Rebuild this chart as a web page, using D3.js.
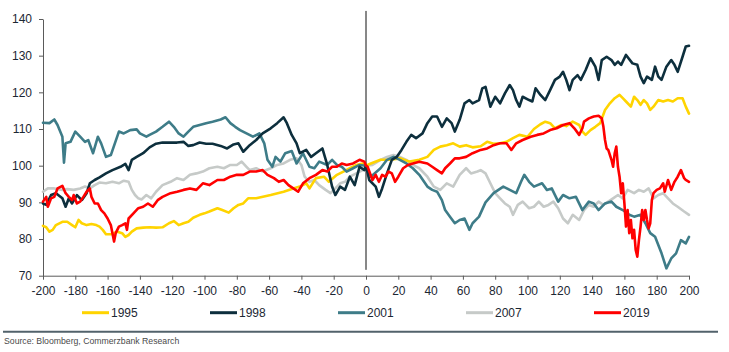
<!DOCTYPE html>
<html>
<head>
<meta charset="utf-8">
<script src="https://cdn.jsdelivr.net/npm/d3@7"></script>
<style>
  body { margin: 0; background: #fff; }
  svg { display: block; font-family: "Liberation Sans", Arial, sans-serif; }
</style>
</head>
<body>
<script>
// days around the event (x) and index level (y)
const s1995 = [[-200,83.6],[-198,83.2],[-196,82],[-194,82.5],[-192,83.8],[-188,84.7],[-185,84.7],[-182,83.8],[-180,83.2],[-178,85.2],[-176,84.3],[-173,83.8],[-170,84.1],[-167,83.8],[-165,83.4],[-163,82.5],[-161,81.3],[-158,81.3],[-154,82],[-151,81.6],[-149,80.6],[-147,81.1],[-145,82],[-142,82.9],[-138,83.1],[-134,83.2],[-130,83.1],[-126,83.2],[-122,84.3],[-119,84.9],[-116,83.8],[-113,84.3],[-110,84.7],[-107,85.8],[-103,86.6],[-100,87],[-97,87.5],[-92,88.4],[-89,87.9],[-85,87.2],[-82,88.4],[-79,89.3],[-76,89.7],[-73,91.1],[-68,91.1],[-59,92],[-51,92.9],[-45,93.8],[-41,94.3],[-37,95.2],[-35,93.8],[-31,96.6],[-26,97],[-23,95.6],[-18,97.5],[-14,98.4],[-10,99.3],[-6,100.2],[-2,100.6],[0,100],
  [3,100.6],[9,101.6],[15,101.6],[21,102],[27,101.1],[33,101.6],[38,102.4],[42,104.3],[46,105.2],[50,105.6],[54,106.1],[58,105.2],[62,105.6],[66,105],[71,105.3],[75,106.5],[79,106],[83,106.1],[87,106.5],[91,107.5],[95,108.4],[100,107.9],[104,110],[108,111.3],[111,112],[114,111.6],[117,110.2],[121,111.1],[124,110.8],[128,112],[132,111.1],[134,109.3],[136,108.4],[139,109.7],[142,110.6],[145,111.6],[148,115.2],[151,117],[154,118.4],[157,119.3],[159,118.4],[161,117.5],[164,116.1],[166,118.8],[168,117.9],[170,116.6],[172,117.9],[174,117],[176,115.2],[178,116.1],[181,117.9],[184,117.5],[187,117.9],[190,117.5],[193,118.4],[196,118.4],[198,116.1],[200,114.2]];

const s1998 = [[-200,89.7],[-198,89.3],[-195,92],[-192,92.5],[-188,91.1],[-186,88.8],[-184,91.1],[-182,89.7],[-179,92],[-176,90.6],[-173,92.5],[-171,95.2],[-168,96.1],[-165,96.8],[-161,97.9],[-157,98.8],[-152,99.7],[-149,100.5],[-147,98.8],[-145,101.6],[-142,102.4],[-138,103.4],[-134,105],[-130,106],[-126,106.3],[-121,106.3],[-117,106.3],[-113,106.5],[-110,105.4],[-107,105.6],[-103,106.3],[-99,106],[-95,106],[-90,105.4],[-86,104.7],[-82,105.8],[-79,106.1],[-76,103.8],[-72,105.6],[-68,107],[-64,108.8],[-59,110.2],[-55,111.6],[-51,113.2],[-49,111.6],[-46,108.4],[-43,106.1],[-41,103.4],[-37,104.3],[-34,102.4],[-31,103.4],[-27,104.7],[-24,100.2],[-21,94.3],[-19,92],[-16,94.3],[-13,93.4],[-10,97],[-7,94.7],[-4,99.7],[-1,98.8],[0,100],
  [2,96.1],[6,94.3],[8,91.5],[10,93.8],[13,97.9],[16,101.6],[19,102.4],[22,104.3],[25,106.5],[28,108.4],[31,107.5],[35,108.8],[38,111.6],[41,113.4],[44,113.4],[47,110.6],[50,112.9],[53,111.6],[55,109.3],[58,112.5],[61,117],[64,117.9],[66,117],[70,117.9],[72,121.1],[74,121.5],[77,116.1],[80,118.8],[83,117],[86,119.7],[89,122],[91,120.6],[93,117.9],[95,116.1],[97,118.8],[101,117.9],[103,117.5],[105,121.1],[108,119.3],[111,117.9],[114,120.6],[117,123.4],[120,124.3],[122,125.6],[124,123.4],[126,120.6],[128,123.4],[131,124.7],[133,123.4],[136,126.1],[139,129.3],[142,127],[144,123.4],[146,128.8],[149,129.7],[152,128.8],[154,127.5],[156,128.4],[158,127.5],[161,130.2],[165,127.9],[168,127.5],[170,124.3],[172,122.5],[174,124.3],[177,123.4],[179,127],[181,124.3],[183,123.4],[186,127],[189,128.8],[191,127.5],[193,125.6],[196,129.7],[198,132.5],[200,132.7]];

const s2001 = [[-200,111.7],[-196,111.6],[-193,112.6],[-191,111.1],[-188,107.9],[-187,100.8],[-186,106.1],[-183,106.5],[-180,109.3],[-177,107.9],[-174,106.5],[-172,107],[-169,103.4],[-166,107.9],[-164,106.1],[-161,102.4],[-158,102.9],[-153,109.3],[-150,108.8],[-146,109.7],[-142,109.9],[-140,108.8],[-136,107.9],[-134,108.4],[-130,109.3],[-126,110.6],[-122,112],[-119,110.6],[-116,108.8],[-113,107.9],[-110,109.3],[-107,110.6],[-103,111.1],[-99,111.6],[-95,112],[-90,112.6],[-87,113.2],[-84,111.6],[-81,110.6],[-78,109.7],[-74,108.8],[-70,107.9],[-66,108.8],[-63,106.1],[-61,101.6],[-58,99.7],[-56,102.4],[-53,101.1],[-50,103.4],[-46,104],[-43,100.6],[-39,103.4],[-35,99.7],[-32,99.3],[-29,101.1],[-24,100.2],[-21,101.6],[-18,100.2],[-15,99.7],[-12,98.4],[-8,99.3],[-4,100.2],[0,100],
  [3,97],[9,99.3],[13,101.6],[17,102.4],[21,101.6],[25,100.6],[29,99.3],[33,97.5],[38,94.3],[41,93.4],[44,92.9],[47,90.6],[49,87.9],[52,86.1],[55,84.3],[58,85.2],[61,85.6],[64,82.5],[66,84.3],[70,86.1],[74,90],[79,92.5],[82,93.4],[85,94.3],[89,93.4],[93,92.5],[96,95.6],[98,97.5],[101,95.6],[104,94.3],[109,95.2],[112,93.4],[115,93.8],[119,90.2],[122,92],[126,91.1],[130,91.5],[134,87.9],[138,90.2],[141,89.7],[144,87.9],[148,89.7],[152,90.2],[155,88.8],[159,87.9],[163,86.6],[166,86.1],[170,86.6],[173,84.3],[176,81.6],[179,80.6],[183,76.1],[186,72],[189,74.7],[192,76.1],[195,79.7],[198,78.8],[200,80.6]];

const s2007 = [[-200,92.9],[-197,93.8],[-193,93.8],[-188,93.4],[-185,93.6],[-181,93.4],[-177,93.8],[-174,94.3],[-171,93.8],[-168,94.7],[-165,95.4],[-161,95.2],[-157,95.6],[-153,95.2],[-150,95.9],[-147,95.6],[-145,93.4],[-143,92],[-141,91.1],[-139,90.8],[-136,92],[-133,91.1],[-130,92.9],[-126,94.7],[-121,95.6],[-117,96.6],[-113,96.1],[-109,97.5],[-105,97.9],[-101,98.4],[-97,99.3],[-92,99.7],[-88,99.3],[-84,100.2],[-80,100.2],[-77,101.1],[-74,99.7],[-72,98.8],[-68,99.3],[-64,98.4],[-59,99.3],[-55,100.2],[-51,100.6],[-47,101.6],[-43,102],[-40,100.2],[-38,97],[-35,95.6],[-32,96.1],[-29,94.7],[-25,93.4],[-22,92.5],[-19,93.8],[-16,95.2],[-13,95.6],[-10,97],[-6,97.9],[-2,98.8],[0,100],
  [4,100.2],[9,101.6],[13,102.4],[17,102.9],[21,102.4],[25,101.6],[29,100.2],[33,99.3],[38,97],[42,94.3],[46,93.4],[50,95.2],[54,94.3],[58,97.5],[62,99.3],[65,97.9],[69,98.4],[71,98.8],[74,97.9],[77,95.2],[80,92.5],[83,91.1],[86,89.7],[89,88.8],[91,86.6],[94,89.3],[97,90.2],[101,88.4],[104,88.8],[107,90.2],[110,88.8],[113,89.3],[116,90.2],[119,88.4],[122,85.6],[125,84.3],[128,86.6],[132,85.2],[135,87.9],[138,89.3],[141,88.8],[144,90.2],[147,89.3],[150,90.2],[153,91.1],[156,92],[159,91.1],[162,93.4],[166,92.5],[169,93.4],[172,92.9],[175,93.8],[178,91.1],[181,92],[184,92.5],[187,91.1],[190,89.7],[193,88.8],[197,87.5],[200,86.6]];

const s2019 = [[-200,90.2],[-198,91.5],[-197,88.8],[-195,91.1],[-193,91.5],[-191,93.8],[-188,94.5],[-186,92.5],[-184,91.5],[-182,90.6],[-181,92],[-179,89.7],[-177,90.2],[-175,91.5],[-173,92.9],[-171,93.8],[-170,91.5],[-168,89.7],[-166,89.7],[-164,87.9],[-162,87],[-160,85.6],[-158,83.8],[-157,81.6],[-156,79.3],[-155,81.6],[-153,83.4],[-151,83.8],[-149,84.3],[-148,82.5],[-147,85.6],[-144,87],[-141,88.4],[-138,88.8],[-135,89.7],[-132,88.8],[-129,90.6],[-126,91.5],[-121,92.5],[-117,92.9],[-113,93.4],[-109,93.8],[-105,93.4],[-101,95.2],[-97,94.7],[-92,96.1],[-88,96.1],[-84,97],[-80,97.5],[-76,97.5],[-72,98.4],[-68,98.4],[-64,98.8],[-61,97.5],[-57,96.6],[-54,95.6],[-51,96.1],[-48,94.7],[-45,93.8],[-42,92.9],[-39,95.2],[-35,96.6],[-31,97.5],[-27,98.8],[-24,98.4],[-21,99.7],[-18,99.7],[-15,100.6],[-12,100.2],[-8,100.6],[-4,101.6],[-1,101.1],[0,100],
  [1,99.7],[4,96.1],[6,97.5],[8,95.6],[10,97.5],[12,97],[14,98.4],[16,97.9],[18,95.6],[20,97],[23,99.3],[26,100.2],[29,100.6],[33,101.1],[38,100.6],[41,99.7],[44,98.8],[47,97.9],[49,99.3],[52,100.6],[55,102],[58,102],[62,102.4],[66,103.4],[71,104.3],[75,104.7],[79,105.6],[83,106.1],[87,106.1],[90,104.3],[93,106.1],[97,107],[102,107.9],[106,108.4],[110,108.8],[114,109.7],[118,110.2],[122,111.1],[126,111.6],[129,110.2],[132,108.4],[134,110.2],[135,112],[138,112.9],[141,113.4],[144,113.6],[146,112.9],[147,110.6],[148,107],[149,104.7],[150,104.3],[152,101.6],[153,99.7],[154,103.4],[155,105.2],[156,99.7],[157,97],[158,92.5],[159,95.2],[160,89.7],[161,83.4],[162,87.9],[163,81.6],[164,85.2],[165,80.2],[166,82.5],[167,77],[168,75.2],[169,79.7],[170,83.4],[171,87.9],[172,85.2],[173,87.9],[174,85.2],[175,82.9],[176,84.3],[177,90.6],[178,92.5],[180,93.4],[182,93.8],[184,95.2],[185,92.9],[187,96.1],[189,93.4],[191,95.6],[193,97],[195,98.8],[197,96.6],[198,96.1],[200,95.6]];

const xTicks = d3.range(-200, 201, 20);
const yTicks = [70, 80, 90, 100, 110, 120, 130, 140];
const seriesNames = ["1995", "1998", "2001", "2007", "2019"];
const seriesColors = ["#ffd400", "#0d2f3d", "#3e7c88", "#c6cac8", "#ff0000"];
const seriesData = [s1995, s1998, s2001, s2007, s2019];
const drawOrder = [3, 0, 2, 1, 4];
const source = "Source: Bloomberg, Commerzbank Research";

const width = 729;
const height = 352;

const svg = d3.select("body").append("svg")
  .attr("width", width)
  .attr("height", height);

const x = d3.scaleLinear().domain([-200, 200]).range([43, 689]);
const y = d3.scaleLinear().domain([70, 140]).range([275.7, 19]);

// axes (plain hyphen for negatives, like the original)
const xAxis = svg.append("g")
  .attr("transform", `translate(0, ${y(70)})`)
  .call(d3.axisBottom(x).tickValues(xTicks).tickFormat((d) => String(d))
    .tickSize(4).tickSizeOuter(0).tickPadding(6.5));

const yAxis = svg.append("g")
  .attr("transform", `translate(${x(-200)}, 0)`)
  .call(d3.axisLeft(y).tickValues(yTicks).tickFormat((d) => String(d))
    .tickSize(4).tickSizeOuter(0).tickPadding(7));

[xAxis, yAxis].forEach((g) => {
  g.select(".domain").attr("stroke", "#5a5a5a");
  g.selectAll(".tick line").attr("stroke", "#5a5a5a");
  g.selectAll(".tick text")
    .attr("fill", "#1c2733")
    .style("font-size", "12px")
    .style("font-family", '"Liberation Sans", Arial, sans-serif');
});

// zero day marker
svg.append("line")
  .attr("x1", x(0)).attr("x2", x(0))
  .attr("y1", y(142.2)).attr("y2", y(71.6))
  .attr("stroke", "#111")
  .attr("stroke-width", 1);

// lines
const line = d3.line()
  .x((d) => x(d[0]))
  .y((d) => y(d[1]));

drawOrder.forEach((i) => {
  svg.append("path")
    .datum(seriesData[i])
    .attr("fill", "none")
    .attr("stroke", seriesColors[i])
    .attr("stroke-width", 2.6)
    .attr("stroke-linejoin", "round")
    .attr("stroke-linecap", "round")
    .attr("d", line);
});

// legend
const legend = svg.append("g").attr("transform", "translate(82, 312.7)");
seriesNames.forEach((name, i) => {
  const item = legend.append("g").attr("transform", `translate(${i * 128}, 0)`);
  item.append("line")
    .attr("x1", 0).attr("x2", 27)
    .attr("stroke", seriesColors[i])
    .attr("stroke-width", 3);
  item.append("text")
    .attr("x", 29)
    .attr("dy", "0.35em")
    .attr("fill", "#1c2733")
    .style("font-size", "12px")
    .text(name);
});

// footer
svg.append("line")
  .attr("x1", 3).attr("x2", 718)
  .attr("y1", 331.7).attr("y2", 331.7)
  .attr("stroke", "#52626b")
  .attr("stroke-width", 2);

svg.append("text")
  .attr("x", 4)
  .attr("y", 344)
  .attr("fill", "#4a4a4a")
  .style("font-size", "8.7px")
  .text(source);
</script>
</body>
</html>
